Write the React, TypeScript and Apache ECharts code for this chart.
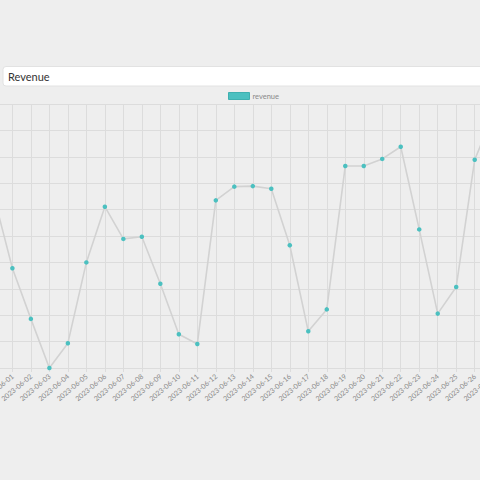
import React, { useEffect, useRef } from "react";
import * as echarts from "echarts";

const categories = [
  "2023-05-31", "2023-06-01", "2023-06-02", "2023-06-03", "2023-06-04", "2023-06-05",
  "2023-06-06", "2023-06-07", "2023-06-08", "2023-06-09", "2023-06-10", "2023-06-11",
  "2023-06-12", "2023-06-13", "2023-06-14", "2023-06-15", "2023-06-16", "2023-06-17",
  "2023-06-18", "2023-06-19", "2023-06-20", "2023-06-21", "2023-06-22", "2023-06-23",
  "2023-06-24", "2023-06-25", "2023-06-26", "2023-06-27",
];
const revenue = [
  650, 378, 186, 0, 94, 400, 611, 489, 497, 319, 128, 91, 635, 687, 689, 679, 465, 139,
  222, 765, 765, 792, 838, 525, 206, 307, 789, 960,
];
const seriesName = "revenue";
const titleText = "Revenue";

const SHIFT = 20; // chart canvas extends past the left edge of the view
const WIDTH = 520;

export default function App() {
  const ref = useRef<HTMLDivElement>(null);
  useEffect(() => {
    if (!ref.current) return;
    const chart = echarts.init(ref.current, undefined, { renderer: "svg" });
    chart.setOption({
      animation: false,
      backgroundColor: "#eeeeee",
      graphic: [
        {
          type: "rect",
          shape: { x: 3 + SHIFT, y: 66.5, width: 500, height: 19.5, r: 3 },
          style: { fill: "#ffffff", stroke: "#e2e2e2", lineWidth: 1 },
          z: 10,
        },
        {
          type: "text",
          x: 8 + SHIFT,
          y: 76.5,
          style: {
            text: titleText,
            fill: "#333333",
            font: "11px 'Lato', sans-serif",
            verticalAlign: "middle",
          },
          z: 11,
        },
      ],
      legend: {
        left: 228 + SHIFT,
        top: 92,
        padding: 0,
        itemWidth: 21,
        itemHeight: 7,
        itemGap: 4,
        textStyle: { color: "#8a8a8a", fontSize: 7.5, fontFamily: "Lato, sans-serif", padding: [0, 0, 0, -2] },
        data: [
          {
            name: seriesName,
            icon: "rect",
            itemStyle: { color: "#4bc0c0", borderColor: "#3fb0b0", borderWidth: 1 },
          },
        ],
      },
      grid: {
        left: SHIFT - 6.1,
        right: WIDTH - (493.2 + SHIFT),
        top: 104,
        bottom: 112,
        containLabel: false,
        outerBoundsMode: "none",
      },
      xAxis: {
        type: "category",
        data: categories,
        boundaryGap: false,
        axisLine: { show: true, lineStyle: { color: "#dcdcdc" } },
        axisTick: { show: true, length: 4, lineStyle: { color: "#dcdcdc" } },
        splitLine: { show: true, lineStyle: { color: "#dcdcdc", width: 1 } },
        axisLabel: {
          rotate: 40,
          interval: 0,
          color: "#888888",
          fontSize: 7,
          fontFamily: "Lato, sans-serif",
          margin: 7,
        },
      },
      yAxis: {
        type: "value",
        min: 0,
        max: 1000,
        interval: 100,
        axisLabel: { show: false },
        axisLine: { show: false },
        axisTick: { show: false },
        splitLine: { show: true, lineStyle: { color: "#dcdcdc", width: 1 } },
      },
      series: [
        {
          name: seriesName,
          type: "line",
          data: revenue,
          symbol: "circle",
          symbolSize: 4.5,
          showSymbol: true,
          lineStyle: { color: "#d2d2d2", width: 1.6 },
          itemStyle: { color: "#4bc0c0", borderWidth: 0 },
        },
      ],
    });
    return () => chart.dispose();
  }, []);
  return (
    <div
      style={{
        position: "fixed",
        left: 0,
        top: 0,
        width: 480,
        height: 480,
        overflow: "hidden",
        background: "#eeeeee",
      }}
    >
      <div
        ref={ref}
        style={{ position: "absolute", left: -SHIFT, top: 0, width: WIDTH, height: 480 }}
      />
    </div>
  );
}
